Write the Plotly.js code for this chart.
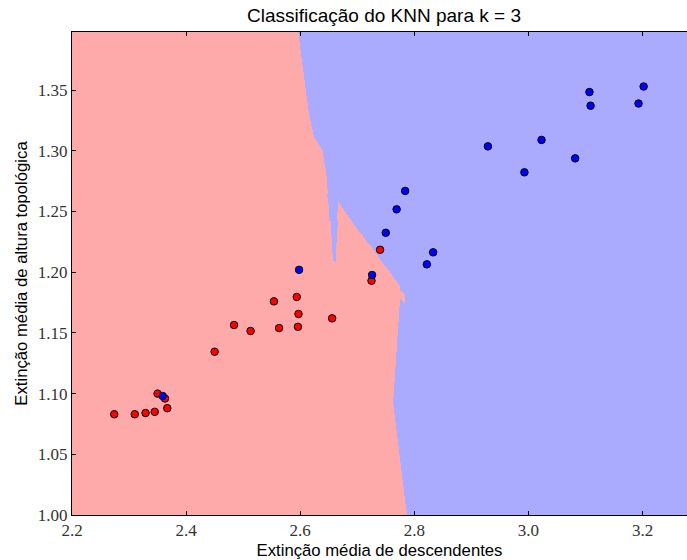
<!DOCTYPE html>
<html>
<head>
<meta charset="utf-8">
<script src="https://cdn.plot.ly/plotly-3.0.1.min.js"></script>
<style>html,body{margin:0;padding:0;background:#fff;}#chart{width:687px;height:560px;}</style>
</head>
<body>
<div id="chart"></div>
<script>
// Data
const redX = [2.274, 2.310, 2.329, 2.345, 2.350, 2.363, 2.367, 2.450, 2.484, 2.513, 2.554, 2.563, 2.594, 2.597, 2.596, 2.656, 2.725, 2.740];
const redY = [1.083, 1.083, 1.084, 1.085, 1.100, 1.096, 1.088, 1.1345, 1.1565, 1.1516, 1.176, 1.154, 1.1796, 1.1656, 1.155, 1.162, 1.193, 1.2185];
const blueX = [2.359, 2.598, 2.726, 2.750, 2.769, 2.784, 2.822, 2.833, 2.929, 2.993, 3.023, 3.082, 3.107, 3.109, 3.193, 3.202];
const blueY = [1.098, 1.202, 1.1977, 1.2325, 1.2518, 1.267, 1.2065, 1.2164, 1.3037, 1.2823, 1.309, 1.2938, 1.3484, 1.3372, 1.339, 1.353];
const kNeighbors = 3;
const xTicks = [2.2, 2.4, 2.6, 2.8, 3.0, 3.2];
const xTickText = ['2.2', '2.4', '2.6', '2.8', '3.0', '3.2'];
const yTicks = [1.00, 1.05, 1.10, 1.15, 1.20, 1.25, 1.30, 1.35];
const yTickText = ['1.00', '1.05', '1.10', '1.15', '1.20', '1.25', '1.30', '1.35'];

// Training set
const trainX = redX.concat(blueX);
const trainY = redY.concat(blueY);
const trainC = redX.map(() => 0).concat(blueX.map(() => 1));

// Decision region on a mesh (KNN, k=3, Euclidean)
const gx = [], gy = [];
for (let v = 2.19; v <= 3.29; v += 0.0018) gx.push(v);
for (let v = 0.99; v <= 1.41; v += 0.0008) gy.push(v);
const z = gy.map(yy => gx.map(xx => {
  const d = trainX.map((tx, i) => [(tx - xx) * (tx - xx) + (trainY[i] - yy) * (trainY[i] - yy), trainC[i]]);
  d.sort((a, b) => a[0] - b[0]);
  let s = 0;
  for (let j = 0; j < kNeighbors; j++) s += d[j][1];
  return s * 2 > kNeighbors ? 1 : 0;
}));

const traces = [
  {type: 'heatmap', x: gx, y: gy, z: z, zmin: 0, zmax: 1, zsmooth: false, showscale: false, hoverinfo: 'skip',
   colorscale: [[0, '#FFAAAA'], [0.5, '#FFAAAA'], [0.5, '#AAAAFF'], [1, '#AAAAFF']]},
  {type: 'scatter', mode: 'markers', x: redX, y: redY, showlegend: false,
   marker: {color: '#FF0000', size: 7.5, line: {color: '#000000', width: 1}}},
  {type: 'scatter', mode: 'markers', x: blueX, y: blueY, showlegend: false,
   marker: {color: '#0000FF', size: 7.5, line: {color: '#000000', width: 1}}}
];

const tickFont = {family: "'Liberation Serif', 'DejaVu Serif', serif", size: 17, color: '#333333'};
const titleFamily = "'Liberation Sans', Arial, sans-serif";
const layout = {
  width: 687, height: 560,
  margin: {l: 72, r: 0, t: 32, b: 45},
  paper_bgcolor: '#ffffff', plot_bgcolor: '#ffffff',
  showlegend: false,
  title: {text: 'Classificação do KNN para k = 3', font: {family: titleFamily, size: 19, color: '#000'},
          x: 384 / 687, xref: 'container', xanchor: 'center', y: 1 - 15 / 560, yref: 'container', yanchor: 'middle'},
  xaxis: {range: [2.2, 3.278], tickvals: xTicks, ticktext: xTickText, ticks: 'inside', ticklen: 4, tickcolor: '#000',
          showline: true, linecolor: '#000', linewidth: 1, mirror: 'ticks', showgrid: false, zeroline: false,
          tickfont: tickFont,
          title: {text: 'Extinção média de descendentes', font: {family: titleFamily, size: 16.7, color: '#000'}, standoff: 8}},
  yaxis: {range: [1.0, 1.3979], tickvals: yTicks, ticktext: yTickText, ticks: 'inside', ticklen: 4, tickcolor: '#000',
          showline: true, linecolor: '#000', linewidth: 1, mirror: false, showgrid: false, zeroline: false,
          tickfont: tickFont,
          title: {text: 'Extinção média de altura topológica', font: {family: titleFamily, size: 16.7, color: '#000'}, standoff: 6}}
};

Plotly.newPlot('chart', traces, layout, {displayModeBar: false, staticPlot: true});
</script>
</body>
</html>
